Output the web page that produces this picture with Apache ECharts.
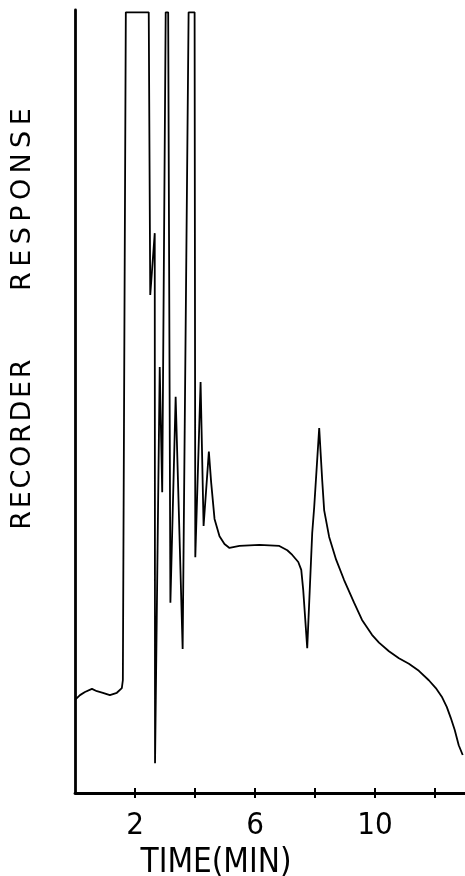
<!DOCTYPE html>
<html><head><meta charset="utf-8">
<script src="https://cdn.jsdelivr.net/npm/echarts@6/dist/echarts.min.js"></script>
<style>html,body{margin:0;padding:0;background:#fff}#c{width:465px;height:876px}</style>
</head><body><div id="c"></div>
<script>
// time (min)
var timeMin = [0, 0.166, 0.332, 0.565, 0.731, 0.930, 1.163, 1.395, 1.561, 1.595, 1.694, 2.458, 2.508, 2.658, 2.668, 2.824, 2.907, 3.023, 3.106, 3.18, 3.355, 3.588, 3.787, 3.987, 4.01, 4.186, 4.286, 4.462, 4.54, 4.651, 4.817, 4.983, 5.150, 5.482, 6.146, 6.811, 7.076, 7.243, 7.442, 7.542, 7.608, 7.741, 7.907, 7.973, 8.140, 8.239, 8.306, 8.472, 8.704, 8.970, 9.302, 9.568, 9.900, 10.133, 10.465, 10.797, 11.130, 11.462, 11.794, 12.027, 12.226, 12.392, 12.525, 12.658, 12.791, 12.924];
// recorder response (arbitrary units, 100 = full scale)
var response = [11.9, 12.5, 12.9, 13.3, 13.0, 12.8, 12.5, 12.8, 13.4, 14.4, 99.7, 99.7, 63.6, 71.5, 3.8, 54.4, 38.4, 99.7, 99.7, 24.3, 50.6, 18.4, 99.7, 99.7, 30.1, 52.5, 34.1, 43.6, 39.6, 35.0, 32.8, 31.8, 31.3, 31.55, 31.7, 31.55, 31.0, 30.4, 29.5, 28.5, 25.9, 18.5, 33.2, 36.5, 46.6, 40.0, 36.1, 32.7, 29.8, 27.2, 24.3, 22.1, 20.2, 19.2, 18.1, 17.2, 16.5, 15.6, 14.4, 13.4, 12.3, 11.0, 9.6, 8.05, 6.1, 4.85];
var tickValues = [2, 4, 6, 8, 10, 12];
var labelValues = [2, 6, 10];
var xTitle = 'TIME(MIN)';
var yTitle = 'R\u200AE\u200AC\u200AO\u200AR\u200AD\u200AE\u200AR        R\u2009E\u2009S\u2009P\u2009O\u2009N\u2009S\u2009E';

var data = timeMin.map(function (t, i) { return [t, response[i]]; });
var chart = echarts.init(document.getElementById('c'), null, {renderer: 'canvas'});
var lblFont = '"Liberation Sans Narrow", "DejaVu Sans Condensed", "Liberation Sans", sans-serif';
chart.setOption({
  animation: false,
  backgroundColor: '#fff',
  grid: {left: 75, right: 0, top: 10, bottom: 83, containLabel: false},
  xAxis: [{
    type: 'value', min: 0, max: 13, interval: 2,
    axisLine: {show: true, lineStyle: {color: '#000', width: 2.8}},
    axisTick: {show: true, length: 5, lineStyle: {color: '#000', width: 2}, customValues: tickValues},
    axisLabel: {show: true, customValues: labelValues, color: '#000', fontSize: 31, fontFamily: lblFont, margin: 17},
    splitLine: {show: false}
  }, {
    type: 'value', min: 0, max: 13, interval: 2, position: 'bottom',
    axisLine: {show: false},
    axisTick: {show: true, inside: true, length: 5, lineStyle: {color: '#000', width: 2}, customValues: tickValues},
    axisLabel: {show: false}, splitLine: {show: false}
  }],
  yAxis: {
    type: 'value', min: 0, max: 100,
    axisLine: {show: true, lineStyle: {color: '#000', width: 2.8}},
    axisTick: {show: false}, axisLabel: {show: false}, splitLine: {show: false}
  },
  graphic: [{
    type: 'text', x: 23, y: 319, rotation: Math.PI / 2,
    style: {text: yTitle, fill: '#000', font: '27px "DejaVu Sans", sans-serif', align: 'center', verticalAlign: 'middle'}
  }, {
    type: 'text', x: 216, y: 863,
    style: {text: xTitle, fill: '#000', font: '33px ' + lblFont, align: 'center', verticalAlign: 'middle'}
  }],
  series: [{
    type: 'line', data: data, xAxisIndex: 0, showSymbol: false, symbol: 'none',
    lineStyle: {color: '#000', width: 1.8}, smooth: false, clip: false
  }]
});
</script></body></html>
